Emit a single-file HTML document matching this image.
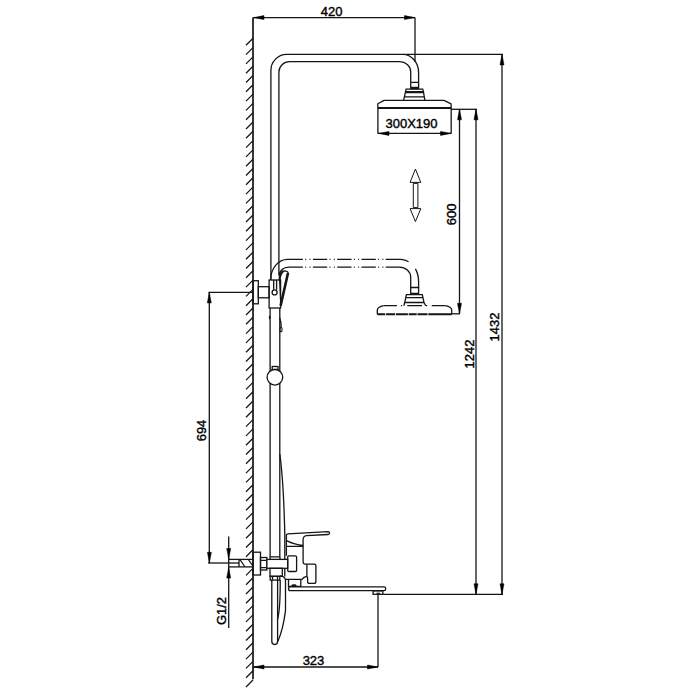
<!DOCTYPE html>
<html><head><meta charset="utf-8">
<style>
html,body{margin:0;padding:0;background:#fff;}
body{width:700px;height:700px;overflow:hidden;position:relative;}
svg{position:absolute;left:0;top:0;}
text{font-family:"Liberation Sans",sans-serif;font-size:13px;fill:#000;stroke:#000;stroke-width:0.4px;}
text.r{stroke-width:0.4px;}
</style></head>
<body>
<svg width="700" height="700" viewBox="0 0 700 700">
<g fill="none" stroke="#151515" stroke-width="1.3">
<!-- wall -->
<line x1="253" y1="17.6" x2="253" y2="679.3" stroke-width="1.7"/>
<line x1="253" y1="38.3" x2="246" y2="45.3"/>
<line x1="253" y1="47.6" x2="246" y2="54.6"/>
<line x1="253" y1="56.9" x2="246" y2="63.9"/>
<line x1="253" y1="66.2" x2="246" y2="73.2"/>
<line x1="253" y1="75.5" x2="246" y2="82.5"/>
<line x1="253" y1="84.8" x2="246" y2="91.8"/>
<line x1="253" y1="94.1" x2="246" y2="101.1"/>
<line x1="253" y1="103.4" x2="246" y2="110.4"/>
<line x1="253" y1="112.7" x2="246" y2="119.7"/>
<line x1="253" y1="122.0" x2="246" y2="129.0"/>
<line x1="253" y1="131.3" x2="246" y2="138.3"/>
<line x1="253" y1="140.6" x2="246" y2="147.6"/>
<line x1="253" y1="149.9" x2="246" y2="156.9"/>
<line x1="253" y1="159.2" x2="246" y2="166.2"/>
<line x1="253" y1="168.5" x2="246" y2="175.5"/>
<line x1="253" y1="177.8" x2="246" y2="184.8"/>
<line x1="253" y1="187.1" x2="246" y2="194.1"/>
<line x1="253" y1="196.4" x2="246" y2="203.4"/>
<line x1="253" y1="205.7" x2="246" y2="212.7"/>
<line x1="253" y1="215.0" x2="246" y2="222.0"/>
<line x1="253" y1="224.3" x2="246" y2="231.3"/>
<line x1="253" y1="233.6" x2="246" y2="240.6"/>
<line x1="253" y1="242.9" x2="246" y2="249.9"/>
<line x1="253" y1="252.2" x2="246" y2="259.2"/>
<line x1="253" y1="261.5" x2="246" y2="268.5"/>
<line x1="253" y1="270.8" x2="246" y2="277.8"/>
<line x1="253" y1="280.1" x2="246" y2="287.1"/>
<line x1="253" y1="289.4" x2="246" y2="296.4"/>
<line x1="253" y1="298.7" x2="246" y2="305.7"/>
<line x1="253" y1="308.0" x2="246" y2="315.0"/>
<line x1="253" y1="317.3" x2="246" y2="324.3"/>
<line x1="253" y1="326.6" x2="246" y2="333.6"/>
<line x1="253" y1="335.9" x2="246" y2="342.9"/>
<line x1="253" y1="345.2" x2="246" y2="352.2"/>
<line x1="253" y1="354.5" x2="246" y2="361.5"/>
<line x1="253" y1="363.8" x2="246" y2="370.8"/>
<line x1="253" y1="373.1" x2="246" y2="380.1"/>
<line x1="253" y1="382.4" x2="246" y2="389.4"/>
<line x1="253" y1="391.7" x2="246" y2="398.7"/>
<line x1="253" y1="401.0" x2="246" y2="408.0"/>
<line x1="253" y1="410.3" x2="246" y2="417.3"/>
<line x1="253" y1="419.6" x2="246" y2="426.6"/>
<line x1="253" y1="428.9" x2="246" y2="435.9"/>
<line x1="253" y1="438.2" x2="246" y2="445.2"/>
<line x1="253" y1="447.5" x2="246" y2="454.5"/>
<line x1="253" y1="456.8" x2="246" y2="463.8"/>
<line x1="253" y1="466.1" x2="246" y2="473.1"/>
<line x1="253" y1="475.4" x2="246" y2="482.4"/>
<line x1="253" y1="484.7" x2="246" y2="491.7"/>
<line x1="253" y1="494.0" x2="246" y2="501.0"/>
<line x1="253" y1="503.3" x2="246" y2="510.3"/>
<line x1="253" y1="512.6" x2="246" y2="519.6"/>
<line x1="253" y1="521.9" x2="246" y2="528.9"/>
<line x1="253" y1="531.2" x2="246" y2="538.2"/>
<line x1="253" y1="540.5" x2="246" y2="547.5"/>
<line x1="253" y1="549.8" x2="246" y2="556.8"/>
<line x1="253" y1="568.4" x2="246" y2="575.4"/>
<line x1="253" y1="577.7" x2="246" y2="584.7"/>
<line x1="253" y1="587.0" x2="246" y2="594.0"/>
<line x1="253" y1="596.3" x2="246" y2="603.3"/>
<line x1="253" y1="605.6" x2="246" y2="612.6"/>
<line x1="253" y1="614.9" x2="246" y2="621.9"/>
<line x1="253" y1="624.2" x2="246" y2="631.2"/>
<line x1="253" y1="633.5" x2="246" y2="640.5"/>
<line x1="253" y1="642.8" x2="246" y2="649.8"/>
<line x1="253" y1="652.1" x2="246" y2="659.1"/>
<line x1="253" y1="661.4" x2="246" y2="668.4"/>
<line x1="253" y1="670.7" x2="246" y2="677.7"/>
<line x1="253" y1="680.0" x2="246" y2="687.0"/>
<!-- 420 dim -->
<line x1="253" y1="17.6" x2="415" y2="17.6"/>
<line x1="415" y1="17.6" x2="415" y2="62"/>
<!-- top pipe -->
<path d="M270.9,280 V70.9 A16,16 0 0 1 286.6,54.4 H402.9 A16,18 0 0 1 418.6,72.3 V82.3"/>
<path d="M278.9,275 V72 A10.5,10.5 0 0 1 289.4,61.7 H399.3 A11,10 0 0 1 410.7,71.6 V82.3"/>
<line x1="402.9" y1="54.4" x2="503" y2="54.4"/>
<!-- top head connector -->
<path d="M410.7,82.3 H418.6 M410.7,87.3 H418.6 M410.7,88.7 H418.6 M410.7,82.3 V89 M418.6,82.3 V89"/>
<path d="M406.1,89.1 H422.7 L423.4,91.7 H405.6 Z M405.5,92.6 H423.5"/>
<path d="M405.6,91.7 L403.6,100.3 M423.4,91.7 L424.9,100.3 M404.6,96.9 H424.1"/>
<path d="M377.8,108 V103.7 L384,100.4 H444 L451.1,103.9 V108" stroke-linejoin="round"/>
<line x1="377.9" y1="108" x2="451.2" y2="108" stroke-width="2.2"/>
<line x1="377.9" y1="108" x2="377.9" y2="133.8"/>
<line x1="451.2" y1="108" x2="451.2" y2="133.8"/>
<line x1="378" y1="133.4" x2="451" y2="133.4"/>
<!-- ext lines right -->
<line x1="451.2" y1="109.3" x2="477" y2="109.3"/>
<line x1="459.5" y1="109.3" x2="459.5" y2="313.8"/>
<line x1="476" y1="109.3" x2="476" y2="594.3"/>
<line x1="502" y1="54.4" x2="502" y2="594.3"/>
<line x1="451" y1="313.8" x2="460" y2="313.8"/>
<line x1="383" y1="594.3" x2="503" y2="594.3"/>
<!-- double arrow -->
<path d="M415.4,169 L420.8,182.4 H410.1 Z M410.1,208.6 H420.8 L415.4,221.6 Z M413.3,183.4 V207.6 H417.9 V183.4 Z" stroke-width="1" stroke-linejoin="round"/>
<!-- dashed lower head pipe -->
<path d="M270.6,280 A17,20.6 0 0 1 287.7,259.4 H302.9 M385.7,259.4 H401 A17.6,22 0 0 1 408.6,261.8 M415.4,268.9 A17.6,22 0 0 1 418.6,281.6 V287.5"/>
<path d="M279.1,275.6 A9.7,8.5 0 0 1 288.8,267.1 H302.9 M385.7,267.1 H399.3 A11.4,10 0 0 1 410.7,277.1 V287.5"/>
<path d="M302.9,259.4 H385.7 M302.9,267.1 H385.7" stroke-dasharray="14.3,2.3,1,3.3,1,2.4" stroke-dashoffset="14.3"/>
<path d="M410.7,287.5 H418.6 M410.7,293.3 H418.6 M410.7,287 V294 M418.6,287 V294"/>
<path d="M406.4,294.6 H422.3 L424,302.5 H404.7 Z M405.7,297.6 H423 M404.7,302.5 L403.8,305.7 M424,302.5 L425.7,305.7"/>
<path d="M383.7,305.7 Q377.5,307 377.3,310 V314.3 M445.5,305.7 Q451.5,307 451.7,310 V314.3"/>
<path d="M383.7,305.7 H445.5" stroke-dasharray="13.2,4,1.2,5.2,14.7,4,1.2,4.6,14.7"/>
<path d="M377.3,314.3 H451.7" stroke-width="2" stroke-dasharray="8,0.8,9,0.8,12,0.8,8,0.8,10,0.8,30"/>
<!-- slider block -->
<rect x="269.1" y="280" width="11.5" height="28"/>
<path d="M273.7,280 V289.7 M276.6,280 V289.7"/>
<circle cx="274.6" cy="292.4" r="2.5" fill="#fff"/>
<rect x="253" y="280.7" width="5.3" height="23.1"/>
<rect x="258.3" y="286.7" width="10.8" height="11.1"/>
<!-- handle -->
<path d="M279.4,275 Q281,271 285,270.9 Q288.5,271.5 288,273 L280.6,305.7 M279.4,275 L280.6,300"/>
<path d="M288,273 L280.6,305.7" stroke-width="2.6"/>
<path d="M279.5,280 Q280,274 283.4,271" stroke-width="2"/>
<!-- rail below -->
<line x1="270.1" y1="308" x2="270.1" y2="557"/>
<line x1="279.8" y1="308" x2="279.8" y2="557"/>
<path d="M279.7,318 Q281.3,322 281.2,327"/>
<ellipse cx="281" cy="329.6" rx="1.1" ry="2.2" stroke-width="1.1"/>
<ellipse cx="269.6" cy="317.4" rx="0.8" ry="1.8" fill="#151515" stroke="none"/>
<rect x="272.2" y="366.5" width="5.8" height="3"/>
<circle cx="274.9" cy="377.3" r="7.8" fill="#fff"/>
<path d="M279.8,454 Q283.5,480 284.8,534 V576.5"/>
<!-- 694 dim -->
<line x1="208.5" y1="292.4" x2="253" y2="292.4"/>
<line x1="209.3" y1="292.4" x2="209.3" y2="562.9"/>
<line x1="208.1" y1="563" x2="239" y2="563"/>
<!-- G1/2 -->
<line x1="228.6" y1="559.4" x2="253" y2="559.4"/>
<line x1="228.6" y1="566.9" x2="253" y2="566.9"/>
<line x1="228.7" y1="536.4" x2="228.7" y2="627.9"/>
<path d="M239.9,559.5 L244.7,566.5 M248.4,559.5 L252.5,565.5 M239,559.4 V566.9"/>
<!-- mixer -->
<rect x="253" y="552.2" width="7.5" height="22.8"/>
<rect x="260.5" y="557.5" width="6.4" height="12.5"/>
<path d="M260.5,560.3 H266.9 M260.5,567.6 H266.9"/>
<rect x="266.9" y="559.4" width="20.8" height="8.9" fill="#fff"/>
<path d="M270,559.4 V557.5 Q270,556.8 271,556.8 H279 Q280,556.8 280,557.5 V559.4"/>
<rect x="287.7" y="555.8" width="8.9" height="15.7" rx="1.2"/>
<rect x="270" y="568.3" width="12.3" height="8"/>
<rect x="270.2" y="576.3" width="9.6" height="3.8"/>
<path d="M272.5,576.3 V580.1 M277.5,576.3 V580.1"/>
<path d="M271.8,580.1 V641.3 Q271.8,644.5 274.8,644.5 Q277.6,644.5 277.6,641.3 V580.1"/>
<path d="M280.2,580.1 Q280.4,608 277.6,619.4"/>
<path d="M280,575.8 Q284.5,576 285.5,579.5 V610.7 Q283,630 277.8,641.5"/>
<!-- handle lever -->
<path d="M286.4,546.3 V535 Q286.4,533.9 288,533.9 L328,531.7 Q330,532 329.5,533.5 Q329,534.5 328,534.5 L306.5,535.6 Q303.1,536 303.1,539.8 V561.6 Q303.1,564.1 304.9,564.1 H314.4 Q315.9,564.1 315.9,565.6 V581.4 Q315.9,583.4 313.9,583.4 H309.5 Q307.6,583.4 307.6,581.4 V577.7 L306.9,576.4 V564.1"/>
<path d="M286.4,540.7 Q295,545 303.1,545.3 M286.4,546.3 H303.1 M286.4,546.3 V555.8"/>
<path d="M285.6,579.3 H302 Q303.5,577 306.9,576.4"/>
<path d="M288.5,579.3 V586.3 H300.8 V579.3"/>
<ellipse cx="294" cy="585.6" rx="2" ry="0.8" fill="#151515"/>
<path d="M290.5,586.9 H384 Q385.7,586.9 385.7,588.7 V589 Q385.7,590.7 384,590.7 H290.5 Q288.5,590.7 288.5,588.8 Q288.5,586.9 290.5,586.9 Z" stroke-width="1.3"/>
<rect x="373.1" y="590.9" width="9.7" height="3.4"/>
<path d="M376.5,593.3 H380" stroke-width="1.2"/>
<line x1="378" y1="594.3" x2="378" y2="667"/>
<!-- 323 dim -->
<line x1="253.5" y1="667" x2="378" y2="667"/>
</g>
<g fill="#000" stroke="#000" stroke-width="0.5" stroke-linejoin="round">
<polygon points="253.5,17.6 264.0,15.6 264.0,19.6"/>
<polygon points="415.0,17.6 404.5,15.6 404.5,19.6"/>
<polygon points="378.5,133.4 389.0,131.4 389.0,135.4"/>
<polygon points="451.0,133.4 440.5,131.4 440.5,135.4"/>
<polygon points="459.5,109.3 457.5,119.8 461.5,119.8"/>
<polygon points="459.5,313.8 457.5,303.3 461.5,303.3"/>
<polygon points="476.0,109.3 474.0,119.8 478.0,119.8"/>
<polygon points="476.0,594.3 474.0,583.8 478.0,583.8"/>
<polygon points="502.0,54.4 500.0,64.9 504.0,64.9"/>
<polygon points="502.0,594.3 500.0,583.8 504.0,583.8"/>
<polygon points="209.3,292.4 207.3,302.9 211.3,302.9"/>
<polygon points="209.4,562.8 207.4,552.3 211.4,552.3"/>
<polygon points="228.7,559.0 226.7,548.5 230.7,548.5"/>
<polygon points="228.7,567.6 226.7,578.1 230.7,578.1"/>
<polygon points="253.5,667.0 264.0,665.0 264.0,669.0"/>
<polygon points="378.0,667.0 367.5,665.0 367.5,669.0"/>
</g>
<text x="331.7" y="15.9" text-anchor="middle">420</text>
<text x="411.5" y="127.6" text-anchor="middle">300X190</text>
<text x="313.5" y="664.6" text-anchor="middle">323</text>
<text transform="translate(456.2,214.3) rotate(-90)" class="r" text-anchor="middle">600</text>
<text transform="translate(473.7,354) rotate(-90)" class="r" text-anchor="middle">1242</text>
<text transform="translate(499.4,327) rotate(-90)" class="r" text-anchor="middle">1432</text>
<text transform="translate(206,430.5) rotate(-90)" class="r" text-anchor="middle">694</text>
<text transform="translate(226.3,611) rotate(-90)" class="r" text-anchor="middle">G1/2</text>
</svg>
</body></html>
